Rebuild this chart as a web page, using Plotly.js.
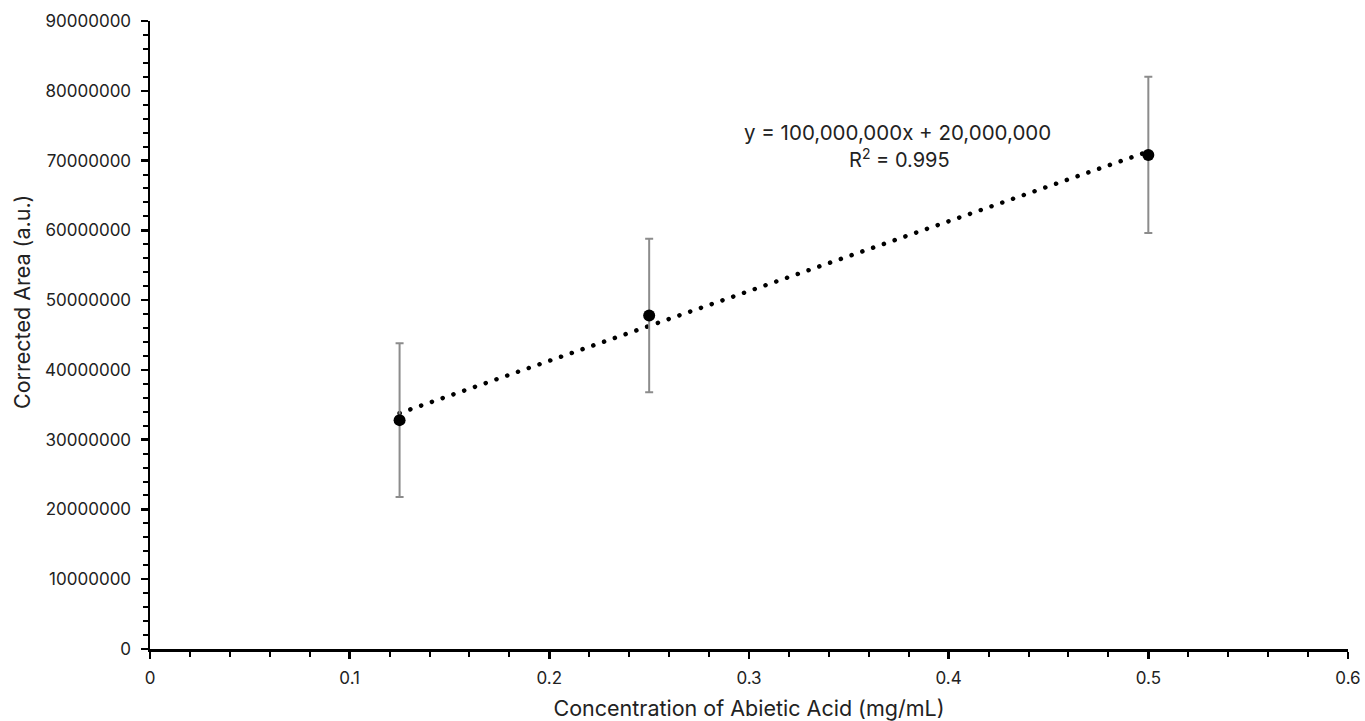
<!DOCTYPE html>
<html>
<head>
<meta charset="utf-8">
<script src="https://cdn.plot.ly/plotly-3.0.1.min.js"></script>
<style>
html,body{margin:0;padding:0;background:#fff;}
#chart{width:1365px;height:721px;}
.scatterlayer .trace:first-child .js-line{stroke-linecap:round !important;}
</style>
</head>
<body>
<div id="chart"></div>
<script>
// Data
const concentration = [0.125, 0.25, 0.5];             // mg/mL
const correctedArea = [32800000, 47800000, 70800000]; // a.u.
const areaError = [11000000, 11000000, 11200000];     // symmetric error bars
const equationLabel = "y = 100,000,000x + 20,000,000";
const r2Label = "R<sup>2</sup> = 0.995";
const xTitle = "Concentration of Abietic Acid (mg/mL)";
const yTitle = "Corrected Area (a.u.)";
const xTickVals = [0, 0.1, 0.2, 0.3, 0.4, 0.5, 0.6];
const yTickVals = [0, 10000000, 20000000, 30000000, 40000000, 50000000, 60000000, 70000000, 80000000, 90000000];

// Linear least-squares fit (trendline) computed from the data
const n = concentration.length;
const mx = concentration.reduce((a, b) => a + b, 0) / n;
const my = correctedArea.reduce((a, b) => a + b, 0) / n;
let sxy = 0, sxx = 0;
for (let i = 0; i < n; i++) {
  sxy += (concentration[i] - mx) * (correctedArea[i] - my);
  sxx += (concentration[i] - mx) ** 2;
}
const slope = sxy / sxx;
const intercept = my - slope * mx;
const trendX = [Math.min(...concentration), Math.max(...concentration)];
const trendY = trendX.map(x => slope * x + intercept);

const FONT = "Inter, 'Open Sans', Arial, sans-serif";
const TXT = '#222222';

const traces = [
  {
    x: trendX, y: trendY, type: 'scatter', mode: 'lines',
    line: {color: '#000', width: 4.5, dash: '0.1px,11.3px'},
    hoverinfo: 'skip', showlegend: false
  },
  {
    x: concentration, y: correctedArea, type: 'scatter', mode: 'markers',
    marker: {color: '#000', size: 12},
    error_y: {type: 'data', array: areaError, visible: true, color: '#8c8c8c', thickness: 2, width: 4},
    showlegend: false
  }
];

const layout = {
  width: 1365, height: 721,
  margin: {l: 150, r: 17, t: 21, b: 72},
  paper_bgcolor: '#fff', plot_bgcolor: '#fff',
  font: {family: FONT, color: TXT, size: 17},
  showlegend: false,
  xaxis: {
    range: [0, 0.6], tickvals: xTickVals, ticktext: xTickVals.map(String),
    showgrid: false, zeroline: false,
    showline: true, linecolor: '#000', linewidth: 2.5,
    ticks: 'outside', ticklen: 7, tickwidth: 2.5, tickcolor: '#000',
    minor: {dtick: 0.02, ticks: 'outside', ticklen: 5, tickwidth: 2, tickcolor: '#000'},
    tickfont: {size: 17, family: FONT, color: TXT},
    ticklabelstandoff: 5,
    title: {text: xTitle, font: {size: 21.5, family: FONT, color: TXT}, standoff: 15}
  },
  yaxis: {
    range: [0, 90000000], tickvals: yTickVals, ticktext: yTickVals.map(String),
    showgrid: false, zeroline: false,
    showline: true, linecolor: '#000', linewidth: 2.5,
    ticks: 'outside', ticklen: 7, tickwidth: 2.5, tickcolor: '#000',
    minor: {dtick: 2000000, ticks: 'outside', ticklen: 5, tickwidth: 2, tickcolor: '#000'},
    tickfont: {size: 17, family: FONT, color: TXT},
    ticklabelstandoff: 6
  },
  annotations: [
    {xref: 'paper', yref: 'paper', x: (22 - 150) / 1198, y: (649 - 302) / 628,
     text: yTitle, textangle: -90, showarrow: false, xanchor: 'center', yanchor: 'middle',
     font: {size: 21.5, family: FONT, color: TXT}},
    {xref: 'paper', yref: 'paper', x: (898 - 150) / 1198, y: (649 - 132) / 628,
     text: equationLabel, showarrow: false, xanchor: 'center', yanchor: 'middle',
     font: {size: 20.5, family: FONT, color: TXT}},
    {xref: 'paper', yref: 'paper', x: (899 - 150) / 1198, y: (649 - 159) / 628,
     text: r2Label, showarrow: false, xanchor: 'center', yanchor: 'middle',
     font: {size: 20, family: FONT, color: TXT}}
  ]
};

Plotly.newPlot('chart', traces, layout, {displayModeBar: false, staticPlot: true});
</script>
</body>
</html>
